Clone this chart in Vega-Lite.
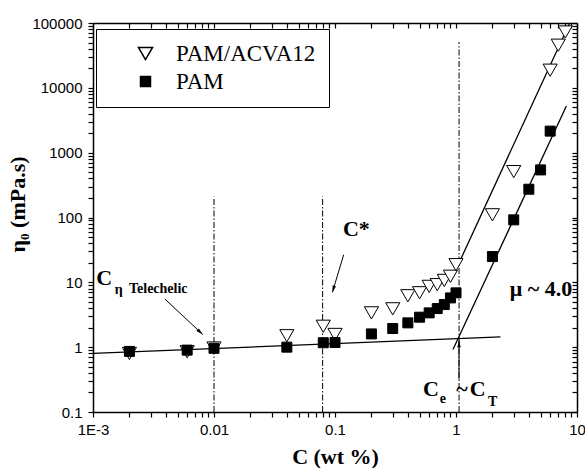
{
  "$schema": "https://vega.github.io/schema/vega-lite/v6.json",
  "width": 484,
  "height": 389,
  "autosize": {"type": "none"},
  "padding": {"left": 93, "top": 23, "right": 8, "bottom": 56},
  "background": "white",
  "config": {
    "view": {"stroke": null},
    "axis": {
      "grid": false,
      "domainColor": "black",
      "domainWidth": 1.5,
      "tickColor": "black",
      "tickWidth": 1.2,
      "labelFont": "Liberation Sans",
      "labelFontSize": 15,
      "labelColor": "black",
      "titleFont": "Liberation Serif",
      "titleFontSize": 22,
      "titleFontWeight": "bold",
      "titleColor": "black",
      "labelOverlap": false,
      "labelFlush": false
    },
    "legend": {
      "title": null, "orient": "none", "legendX": 3, "legendY": 6,
      "strokeColor": "black", "fillColor": "white", "padding": 13,
      "labelFont": "Liberation Serif", "labelFontSize": 23, "labelColor": "black",
      "symbolOffset": 25, "labelOffset": 19, "rowPadding": 4
    }
  },
  "datasets": {
    "pts": [
      {"series": "PAM/ACVA12", "c": 0.002, "eta": 0.8},
      {"series": "PAM/ACVA12", "c": 0.006, "eta": 0.85},
      {"series": "PAM/ACVA12", "c": 0.01, "eta": 0.97},
      {"series": "PAM/ACVA12", "c": 0.04, "eta": 1.5},
      {"series": "PAM/ACVA12", "c": 0.08, "eta": 2.1},
      {"series": "PAM/ACVA12", "c": 0.1, "eta": 1.57},
      {"series": "PAM/ACVA12", "c": 0.2, "eta": 3.38},
      {"series": "PAM/ACVA12", "c": 0.3, "eta": 3.9},
      {"series": "PAM/ACVA12", "c": 0.4, "eta": 6.2},
      {"series": "PAM/ACVA12", "c": 0.5, "eta": 6.9},
      {"series": "PAM/ACVA12", "c": 0.6, "eta": 8.66},
      {"series": "PAM/ACVA12", "c": 0.7, "eta": 9.2},
      {"series": "PAM/ACVA12", "c": 0.8, "eta": 10.7},
      {"series": "PAM/ACVA12", "c": 0.9, "eta": 12.4},
      {"series": "PAM/ACVA12", "c": 1.0, "eta": 18.7},
      {"series": "PAM/ACVA12", "c": 2, "eta": 110},
      {"series": "PAM/ACVA12", "c": 3, "eta": 510},
      {"series": "PAM/ACVA12", "c": 6, "eta": 18700},
      {"series": "PAM/ACVA12", "c": 7, "eta": 45400},
      {"series": "PAM/ACVA12", "c": 8, "eta": 72600},
      {"series": "PAM", "c": 0.002, "eta": 0.86},
      {"series": "PAM", "c": 0.006, "eta": 0.9},
      {"series": "PAM", "c": 0.01, "eta": 0.96},
      {"series": "PAM", "c": 0.04, "eta": 1.0},
      {"series": "PAM", "c": 0.08, "eta": 1.17},
      {"series": "PAM", "c": 0.1, "eta": 1.18},
      {"series": "PAM", "c": 0.2, "eta": 1.6},
      {"series": "PAM", "c": 0.3, "eta": 1.94},
      {"series": "PAM", "c": 0.4, "eta": 2.37},
      {"series": "PAM", "c": 0.5, "eta": 2.9},
      {"series": "PAM", "c": 0.6, "eta": 3.38},
      {"series": "PAM", "c": 0.7, "eta": 3.94},
      {"series": "PAM", "c": 0.8, "eta": 4.54},
      {"series": "PAM", "c": 0.9, "eta": 5.75},
      {"series": "PAM", "c": 1.0, "eta": 6.88},
      {"series": "PAM", "c": 2, "eta": 25},
      {"series": "PAM", "c": 3, "eta": 92},
      {"series": "PAM", "c": 4, "eta": 273},
      {"series": "PAM", "c": 5, "eta": 542},
      {"series": "PAM", "c": 6, "eta": 2150}
    ],
    "fits": [
      {"fit": "dilute", "c": 0.001, "eta": 0.8},
      {"fit": "dilute", "c": 2.33, "eta": 1.44},
      {"fit": "PAM", "c": 0.944, "eta": 0.92},
      {"fit": "PAM", "c": 8.17, "eta": 5230},
      {"fit": "PAM/ACVA12", "c": 1.06, "eta": 20},
      {"fit": "PAM/ACVA12", "c": 8.7, "eta": 100000}
    ],
    "vlines": [
      {"c": 0.01, "lo": 0.1, "hi": 210},
      {"c": 0.079, "lo": 0.1, "hi": 210},
      {"c": 1.06, "lo": 0.1, "hi": 51000}
    ],
    "arrows": [
      {"arrow": "tele", "c0": 0.00392, "eta0": 5.55, "c1": 0.00807, "eta1": 1.57},
      {"arrow": "cstar", "c0": 0.118, "eta0": 26.7, "c1": 0.0951, "eta1": 7.0},
      {"arrow": "ce", "c0": 1.059, "eta0": 0.318, "c1": 1.059, "eta1": 1.27}
    ],
    "big": [
      {"label": "C*", "c": 0.1164, "eta": 51},
      {"label": "C", "c": 0.001066, "eta": 9.22},
      {"label": "μ ~ 4.0", "c": 2.78, "eta": 6.09},
      {"label": "C", "c": 0.533, "eta": 0.176},
      {"label": "~", "c": 1.007, "eta": 0.176},
      {"label": "C", "c": 1.297, "eta": 0.176}
    ],
    "small": [
      {"label": "η", "c": 0.00151, "eta": 6.7},
      {"label": "Telechelic", "c": 0.001984, "eta": 6.87},
      {"label": "e", "c": 0.733, "eta": 0.1396},
      {"label": "T", "c": 1.837, "eta": 0.1236}
    ]
  },
  "layer": [
    {
      "data": {"name": "fits"},
      "mark": {"type": "line", "color": "black", "strokeWidth": 1.3},
      "encoding": {
        "x": {
          "field": "c", "type": "quantitative",
          "scale": {"type": "log", "domain": [0.001, 10], "nice": false},
          "axis": {
            "orient": "bottom",
            "values": [0.001,0.002,0.003,0.004,0.005,0.006,0.007,0.008,0.009,0.01,0.02,0.03,0.04,0.05,0.06,0.07,0.08,0.09,0.1,0.2,0.3,0.4,0.5,0.6,0.7,0.8,0.9,1,2,3,4,5,6,7,8,9,10],
            "labelExpr": "abs(log(datum.value)/LN10 - round(log(datum.value)/LN10)) < 0.000001 ? (datum.value < 0.005 ? '1E-3' : datum.value + '') : ''",
            "tickSize": 5,
            "labelPadding": 5,
            "title": "C (wt %)",
            "titleY": 51,
            "titleBaseline": "alphabetic"
          }
        },
        "y": {
          "field": "eta", "type": "quantitative",
          "scale": {"type": "log", "domain": [0.1, 100000], "nice": false},
          "axis": {
            "orient": "left",
            "values": [0.1,0.2,0.3,0.4,0.5,0.6,0.7,0.8,0.9,1,2,3,4,5,6,7,8,9,10,20,30,40,50,60,70,80,90,100,200,300,400,500,600,700,800,900,1000,2000,3000,4000,5000,6000,7000,8000,9000,10000,20000,30000,40000,50000,60000,70000,80000,90000,100000],
            "labelExpr": "abs(log(datum.value)/LN10 - round(log(datum.value)/LN10)) < 0.000001 ? datum.value + '' : ''",
            "tickSize": 5,
            "labelPadding": 6,
            "title": "η₀ (mPa.s)",
            "titleFont": "Liberation Serif",
            "titleX": -69,
            "titleY": 181,
            "titleAlign": "center",
            "titleBaseline": "alphabetic",
            "titleAngle": -90
          }
        },
        "detail": {"field": "fit", "type": "nominal"}
      }
    },
    {
      "data": {"name": "vlines"},
      "mark": {"type": "rule", "color": "black", "strokeWidth": 1, "strokeDash": [6, 2, 1.5, 2]},
      "encoding": {
        "x": {
          "field": "c", "type": "quantitative",
          "scale": {"type": "log", "domain": [0.001, 10], "nice": false},
          "axis": {
            "orient": "top",
            "values": [0.001,0.002,0.003,0.004,0.005,0.006,0.007,0.008,0.009,0.01,0.02,0.03,0.04,0.05,0.06,0.07,0.08,0.09,0.1,0.2,0.3,0.4,0.5,0.6,0.7,0.8,0.9,1,2,3,4,5,6,7,8,9,10],
            "labels": false,
            "tickSize": -5,
            "title": null
          }
        },
        "y": {
          "field": "lo", "type": "quantitative",
          "scale": {"type": "log", "domain": [0.1, 100000], "nice": false},
          "axis": {
            "orient": "right",
            "values": [0.1,0.2,0.3,0.4,0.5,0.6,0.7,0.8,0.9,1,2,3,4,5,6,7,8,9,10,20,30,40,50,60,70,80,90,100,200,300,400,500,600,700,800,900,1000,2000,3000,4000,5000,6000,7000,8000,9000,10000,20000,30000,40000,50000,60000,70000,80000,90000,100000],
            "labels": false,
            "tickSize": -5,
            "title": null
          }
        },
        "y2": {"field": "hi"}
      }
    },
    {
      "data": {"name": "pts"},
      "mark": {"type": "point", "filled": true, "stroke": "black", "strokeWidth": 1, "opacity": 1},
      "encoding": {
        "x": {"field": "c", "type": "quantitative", "scale": {"type": "log", "domain": [0.001, 10], "nice": false}, "axis": null},
        "y": {"field": "eta", "type": "quantitative", "scale": {"type": "log", "domain": [0.1, 100000], "nice": false}, "axis": null},
        "shape": {
          "field": "series", "type": "nominal",
          "scale": {"domain": ["PAM/ACVA12", "PAM"], "range": ["triangle-down", "square"]},
          "legend": {"encode": {"symbols": {"update": {"stroke": {"value": "black"}, "strokeWidth": {"value": 1}}}}}
        },
        "fill": {
          "field": "series", "type": "nominal",
          "scale": {"domain": ["PAM/ACVA12", "PAM"], "range": ["white", "black"]},
          "legend": {"encode": {"symbols": {"update": {"stroke": {"value": "black"}, "strokeWidth": {"value": 1}}}}}
        },
        "size": {
          "field": "series", "type": "nominal",
          "scale": {"domain": ["PAM/ACVA12", "PAM"], "range": [200, 100]},
          "legend": {"encode": {"symbols": {"update": {"stroke": {"value": "black"}, "strokeWidth": {"value": 1}}}}}
        }
      }
    },
    {
      "data": {"name": "arrows"},
      "mark": {"type": "rule", "color": "black", "strokeWidth": 1},
      "encoding": {
        "x": {"field": "c0", "type": "quantitative", "scale": {"type": "log", "domain": [0.001, 10], "nice": false}, "axis": null},
        "y": {"field": "eta0", "type": "quantitative", "scale": {"type": "log", "domain": [0.1, 100000], "nice": false}, "axis": null},
        "x2": {"field": "c1"},
        "y2": {"field": "eta1"}
      }
    },
    {
      "data": {"name": "arrows"},
      "transform": [{"filter": "datum.arrow == 'tele'"}],
      "mark": {"type": "point", "shape": "M0,0L-0.45,1.8L0.45,1.8Z", "filled": true, "color": "black", "size": 60, "angle": 133.5, "opacity": 1},
      "encoding": {
        "x": {"field": "c1", "type": "quantitative", "scale": {"type": "log", "domain": [0.001, 10], "nice": false}, "axis": null},
        "y": {"field": "eta1", "type": "quantitative", "scale": {"type": "log", "domain": [0.1, 100000], "nice": false}, "axis": null}
      }
    },
    {
      "data": {"name": "arrows"},
      "transform": [{"filter": "datum.arrow == 'cstar'"}],
      "mark": {"type": "point", "shape": "M0,0L-0.45,1.8L0.45,1.8Z", "filled": true, "color": "black", "size": 60, "angle": 196.7, "opacity": 1},
      "encoding": {
        "x": {"field": "c1", "type": "quantitative", "scale": {"type": "log", "domain": [0.001, 10], "nice": false}, "axis": null},
        "y": {"field": "eta1", "type": "quantitative", "scale": {"type": "log", "domain": [0.1, 100000], "nice": false}, "axis": null}
      }
    },
    {
      "data": {"name": "arrows"},
      "transform": [{"filter": "datum.arrow == 'ce'"}],
      "mark": {"type": "point", "shape": "M0,0L-0.45,1.8L0.45,1.8Z", "filled": true, "color": "black", "size": 60, "angle": 0, "opacity": 1},
      "encoding": {
        "x": {"field": "c1", "type": "quantitative", "scale": {"type": "log", "domain": [0.001, 10], "nice": false}, "axis": null},
        "y": {"field": "eta1", "type": "quantitative", "scale": {"type": "log", "domain": [0.1, 100000], "nice": false}, "axis": null}
      }
    },
    {
      "data": {"name": "big"},
      "mark": {"type": "text", "font": "Liberation Serif", "fontWeight": "bold", "fontSize": 22, "align": "left", "baseline": "alphabetic", "color": "black"},
      "encoding": {
        "x": {"field": "c", "type": "quantitative", "scale": {"type": "log", "domain": [0.001, 10], "nice": false}, "axis": null},
        "y": {"field": "eta", "type": "quantitative", "scale": {"type": "log", "domain": [0.1, 100000], "nice": false}, "axis": null},
        "text": {"field": "label"}
      }
    },
    {
      "data": {"name": "small"},
      "mark": {"type": "text", "font": "Liberation Serif", "fontWeight": "bold", "fontSize": 14, "align": "left", "baseline": "alphabetic", "color": "black"},
      "encoding": {
        "x": {"field": "c", "type": "quantitative", "scale": {"type": "log", "domain": [0.001, 10], "nice": false}, "axis": null},
        "y": {"field": "eta", "type": "quantitative", "scale": {"type": "log", "domain": [0.1, 100000], "nice": false}, "axis": null},
        "text": {"field": "label"}
      }
    }
  ],
  "resolve": {"axis": {"x": "independent", "y": "independent"}}
}
